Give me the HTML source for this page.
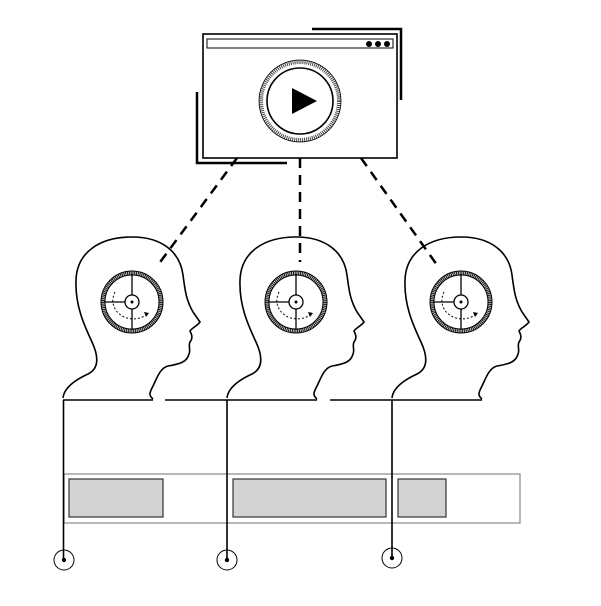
<!DOCTYPE html>
<html><head><style>html,body{margin:0;padding:0;background:#fff}</style></head>
<body>
<svg width="601" height="601" viewBox="0 0 601 601" xmlns="http://www.w3.org/2000/svg">
<defs>
<g id="gear">
  <circle cx="0" cy="0" r="29" fill="none" stroke="#222" stroke-width="4" stroke-dasharray="1.2 0.6"/>
  <circle cx="0" cy="0" r="31" fill="none" stroke="#000" stroke-width="1"/>
  <circle cx="0" cy="0" r="27" fill="none" stroke="#000" stroke-width="1"/>
  <circle cx="0" cy="0" r="7" fill="none" stroke="#000" stroke-width="1.3"/>
  <circle cx="0" cy="0" r="1.5" fill="#000"/>
  <line x1="0" y1="-7" x2="0" y2="-28" stroke="#000" stroke-width="1.3"/>
  <line x1="-7" y1="0" x2="-28" y2="0" stroke="#000" stroke-width="1.3"/>
  <line x1="0" y1="7" x2="0" y2="28" stroke="#000" stroke-width="1.3"/>
  <path d="M-17,-10 C-22,0 -18,10 -8,15 C2,19 10,16 16,12" fill="none" stroke="#000" stroke-width="1" stroke-dasharray="2 2"/>
  <path d="M12,10 L17,11 L14,15 Z" fill="#000"/>
</g>
<g id="head">
  <path d="M63,398 C64,388 75,380 88,374 C100,368 98,355 92,342 C84,325 75,305 76,280 C77,252 100,237 132,237 C162,237 180,252 183,275 C185,290 186,300 193,312 L200,322 C197,326 192,328 190,331 C192,335 193,338 190,342 C188,346 191,350 189,354 C187,362 180,364 168,366 C160,368 157,378 153,386 C150,392 148,395 153,399" fill="none" stroke="#000" stroke-width="1.6"/>
  <use href="#gear" x="132" y="302"/>
</g>
</defs>

<polyline points="312,29 401,29 401,100" fill="none" stroke="#000" stroke-width="2.5"/>
<polyline points="197,92 197,163 287,163" fill="none" stroke="#000" stroke-width="2.5"/>
<rect x="203" y="34" width="194" height="124" fill="#fff" stroke="#000" stroke-width="1.6"/>
<rect x="207" y="39" width="186" height="9" fill="none" stroke="#000" stroke-width="1"/>
<circle cx="369" cy="44" r="3" fill="#000"/>
<circle cx="378" cy="44" r="3" fill="#000"/>
<circle cx="387" cy="44" r="3" fill="#000"/>
<circle cx="300" cy="101" r="39" fill="none" stroke="#444" stroke-width="4" stroke-dasharray="1 1"/>
<circle cx="300" cy="101" r="41" fill="none" stroke="#000" stroke-width="0.8"/>
<circle cx="300" cy="101" r="33" fill="none" stroke="#000" stroke-width="1.6"/>
<path d="M292,88 L317,101 L292,114 Z" fill="#000"/>

<g stroke="#000" stroke-width="2.5" stroke-dasharray="10 7" fill="none">
  <line x1="237" y1="158" x2="158" y2="265"/>
  <line x1="300" y1="158" x2="300" y2="262"/>
  <line x1="361" y1="158" x2="437" y2="265"/>
</g>

<use href="#head" x="0" y="0"/>
<use href="#head" x="164" y="0"/>
<use href="#head" x="329" y="0"/>

<g stroke="#000" stroke-width="1.6">
  <line x1="63" y1="400" x2="153" y2="400"/>
  <line x1="165" y1="400" x2="317" y2="400"/>
  <line x1="330" y1="400" x2="482" y2="400"/>
</g>

<rect x="64" y="474" width="456" height="49" fill="#fff" stroke="#888" stroke-width="1.2"/>
<rect x="69" y="479" width="94" height="38" fill="#d3d3d3" stroke="#333" stroke-width="1.2"/>
<rect x="233" y="479" width="153" height="38" fill="#d3d3d3" stroke="#333" stroke-width="1.2"/>
<rect x="398" y="479" width="48" height="38" fill="#d3d3d3" stroke="#333" stroke-width="1.2"/>

<g stroke="#000" stroke-width="1.6" fill="none">
  <line x1="63.5" y1="400" x2="63.5" y2="560"/>
  <line x1="227" y1="400" x2="227" y2="560"/>
  <line x1="392" y1="400" x2="392" y2="558"/>
  <circle cx="64" cy="560" r="10" stroke-width="1"/>
  <circle cx="227" cy="560" r="10" stroke-width="1"/>
  <circle cx="392" cy="558" r="10" stroke-width="1"/>
</g>
<circle cx="64" cy="560" r="2.2" fill="#000"/>
<circle cx="227" cy="560" r="2.2" fill="#000"/>
<circle cx="392" cy="558" r="2.2" fill="#000"/>
</svg>
</body></html>
